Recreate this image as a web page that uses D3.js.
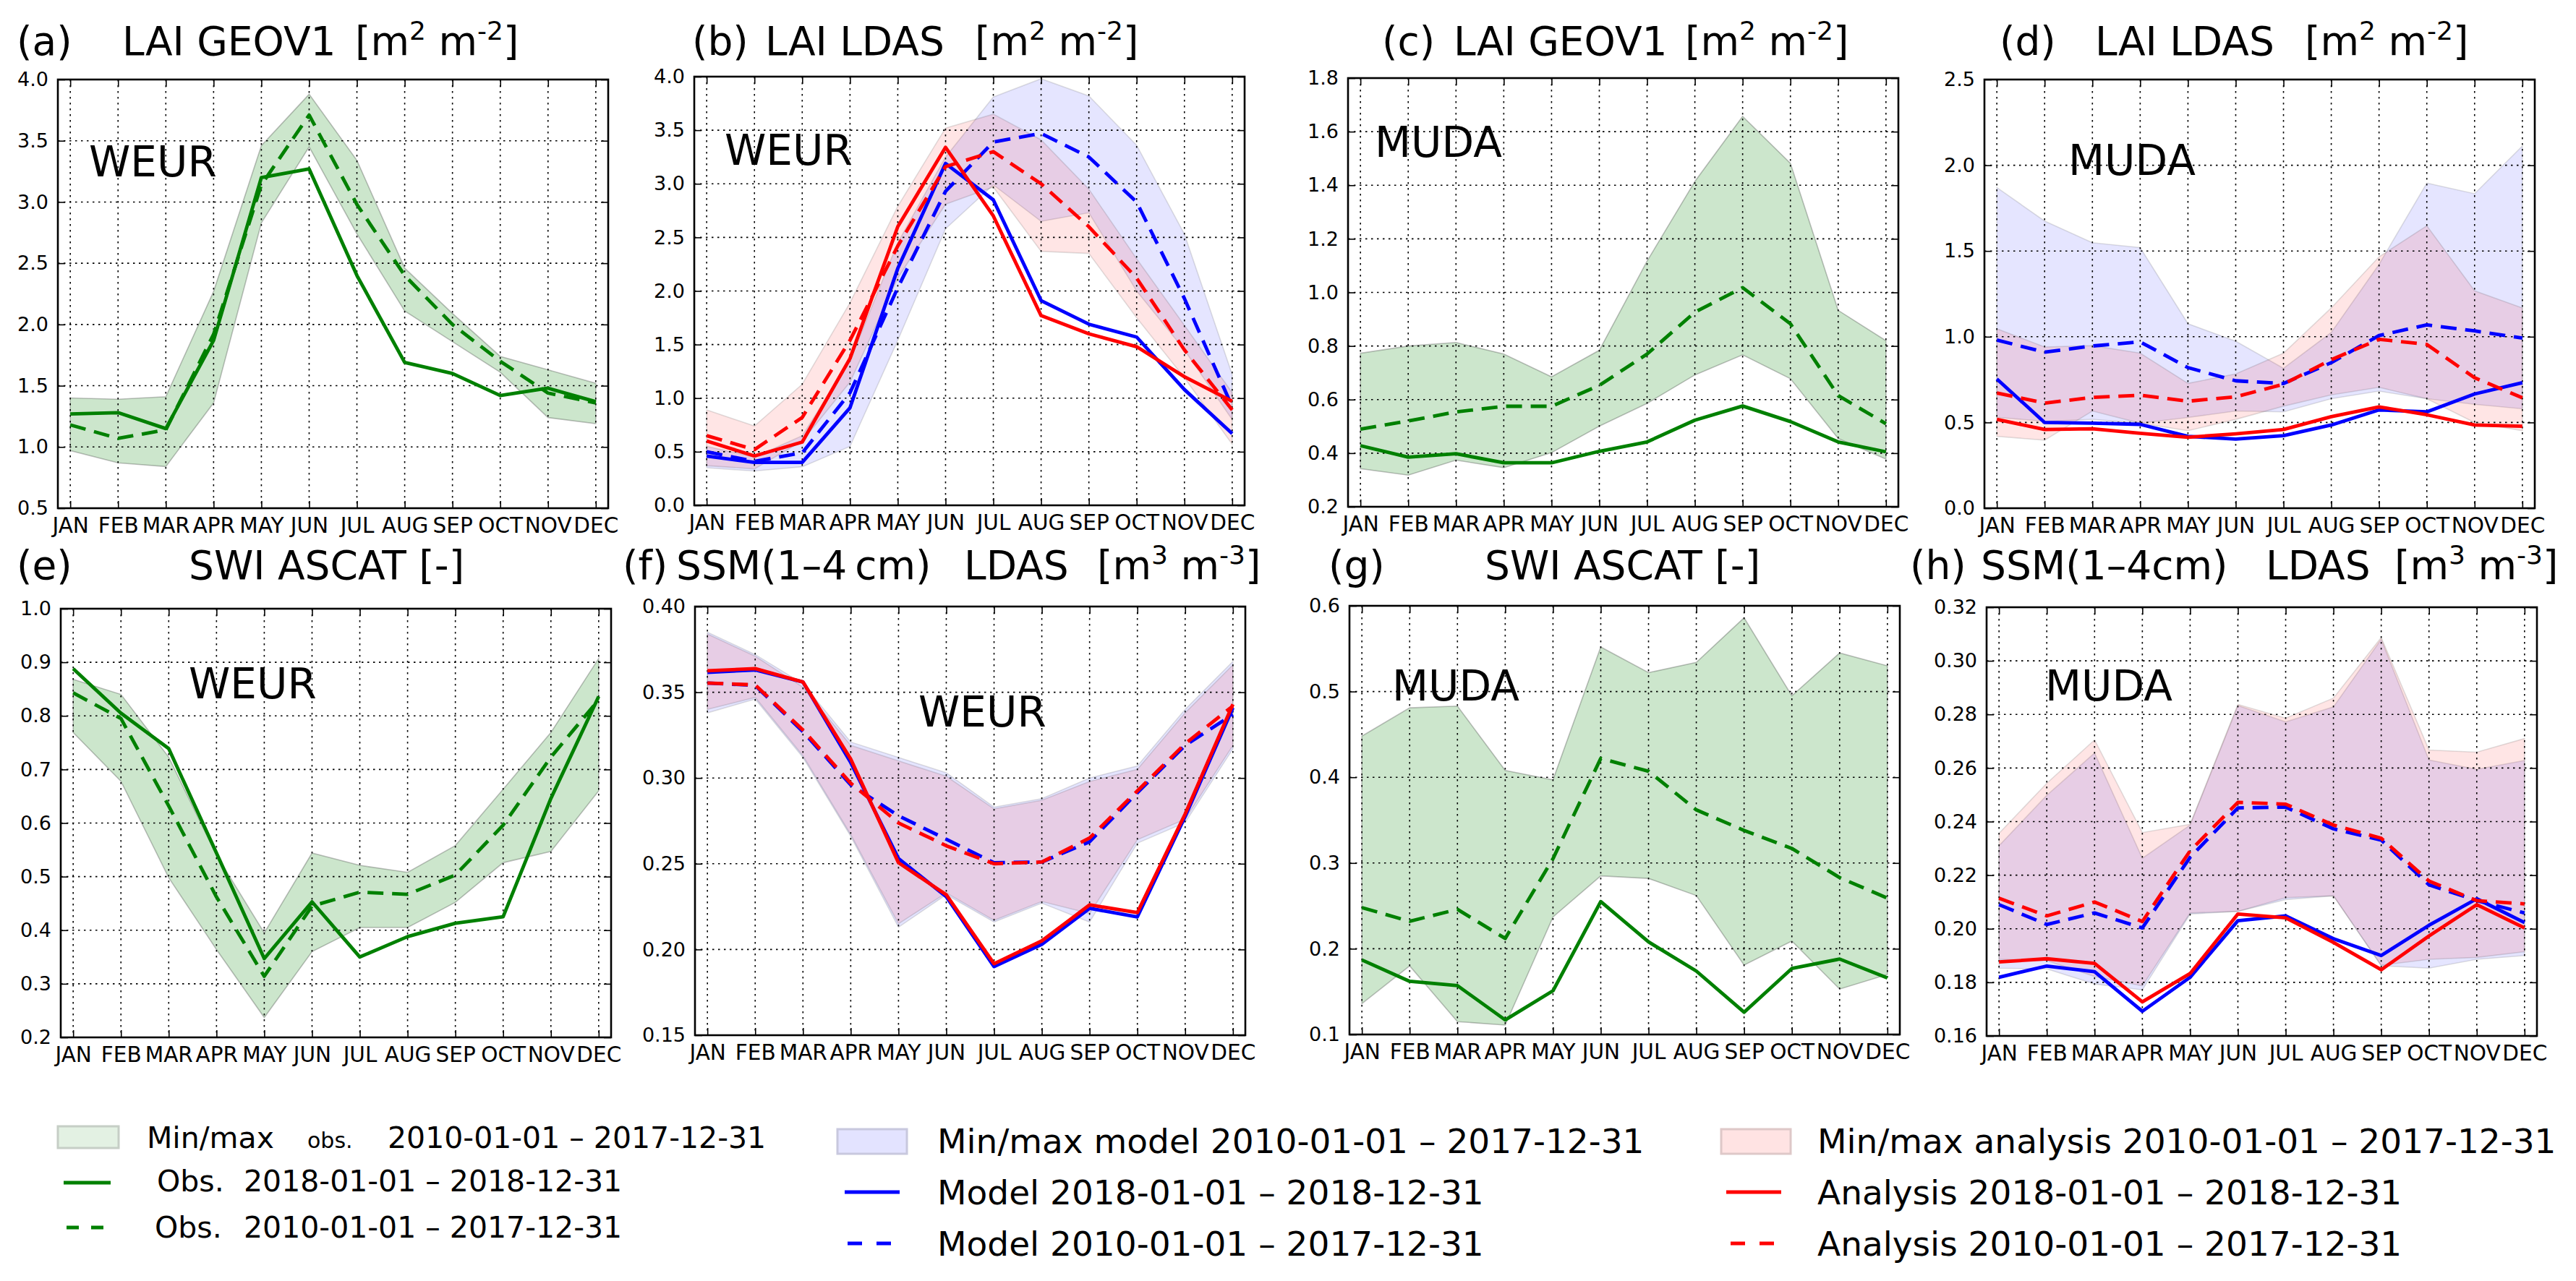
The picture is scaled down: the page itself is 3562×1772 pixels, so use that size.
<!DOCTYPE html>
<html>
<head>
<meta charset="utf-8">
<script src="https://cdn.jsdelivr.net/npm/d3@7"></script>
<style>
  body { margin: 0; background: #fff; }
  text { font-family: "DejaVu Sans", sans-serif; fill: #000; }
</style>
</head>
<body>
<svg id="fig" width="3562" height="1772"></svg>
<script>
var MONTHS = ["JAN","FEB","MAR","APR","MAY","JUN","JUL","AUG","SEP","OCT","NOV","DEC"];

// (a) WEUR - LAI GEOV1
var aObs2018 = [1.27,1.28,1.15,1.87,3.20,3.27,2.40,1.69,1.60,1.42,1.48,1.37];
var aObsMean = [1.18,1.07,1.14,1.92,3.14,3.71,2.98,2.40,2.00,1.70,1.44,1.36];
var aObsMin  = [0.97,0.87,0.84,1.36,2.83,3.45,2.74,2.11,1.86,1.61,1.24,1.19];
var aObsMax  = [1.40,1.39,1.41,2.27,3.46,3.88,3.34,2.46,2.09,1.74,1.63,1.52];
var aTicks   = [0.5,1.0,1.5,2.0,2.5,3.0,3.5,4.0];

// (b) WEUR - LAI LDAS
var bModel2018 = [0.46,0.40,0.40,0.91,2.21,3.19,2.85,1.91,1.69,1.57,1.08,0.67];
var bModelMean = [0.50,0.41,0.49,1.05,2.03,2.93,3.39,3.47,3.25,2.83,1.93,0.92];
var bModelMin  = [0.35,0.32,0.36,0.55,1.54,2.58,2.99,2.65,2.73,2.00,1.45,0.80];
var bModelMax  = [0.55,0.45,0.65,1.35,2.45,3.25,3.81,3.98,3.82,3.36,2.53,1.22];
var bAna2018   = [0.60,0.46,0.59,1.37,2.60,3.34,2.70,1.77,1.60,1.48,1.20,0.97];
var bAnaMean   = [0.65,0.52,0.82,1.54,2.42,3.16,3.30,3.00,2.60,2.12,1.45,0.89];
var bAnaMin    = [0.37,0.34,0.60,1.15,2.12,2.81,2.97,2.37,2.35,1.75,1.19,0.57];
var bAnaMax    = [0.89,0.74,1.13,1.89,2.79,3.52,3.65,3.41,2.95,2.30,1.68,1.05];
var bTicks     = [0.0,0.5,1.0,1.5,2.0,2.5,3.0,3.5,4.0];

// (c) MUDA - LAI GEOV1
var cObs2018 = [0.428,0.385,0.398,0.364,0.364,0.407,0.442,0.523,0.576,0.518,0.442,0.405];
var cObsMean = [0.490,0.520,0.554,0.575,0.575,0.653,0.770,0.926,1.018,0.883,0.615,0.510];
var cObsMin  = [0.342,0.318,0.374,0.346,0.402,0.501,0.586,0.692,0.767,0.678,0.455,0.378];
var cObsMax  = [0.773,0.800,0.813,0.770,0.685,0.784,1.117,1.414,1.657,1.482,0.933,0.820];
var cTicks   = [0.2,0.4,0.6,0.8,1.0,1.2,1.4,1.6,1.8];

// (d) MUDA - LAI LDAS
var dModel2018 = [0.754,0.500,0.496,0.489,0.419,0.403,0.423,0.485,0.573,0.562,0.666,0.732];
var dModelMean = [0.981,0.910,0.946,0.970,0.820,0.743,0.727,0.849,1.007,1.069,1.034,0.992];
var dModelMin  = [0.530,0.507,0.518,0.496,0.529,0.567,0.562,0.639,0.683,0.639,0.606,0.580];
var dModelMax  = [1.870,1.675,1.548,1.520,1.076,0.974,0.816,1.025,1.422,1.896,1.834,2.112];
var dAna2018   = [0.518,0.459,0.463,0.437,0.414,0.434,0.459,0.534,0.591,0.545,0.485,0.478];
var dAnaMean   = [0.672,0.613,0.646,0.659,0.624,0.650,0.723,0.866,0.985,0.955,0.761,0.644];
var dAnaMin    = [0.419,0.397,0.567,0.496,0.452,0.518,0.595,0.661,0.705,0.639,0.500,0.452];
var dAnaMax    = [1.047,0.940,0.948,0.904,0.728,0.783,0.904,1.168,1.466,1.647,1.268,1.168];
var dTicks     = [0.0,0.5,1.0,1.5,2.0,2.5];

// (e) WEUR - SWI ASCAT
var eObs2018 = [0.888,0.805,0.739,0.544,0.347,0.453,0.350,0.388,0.413,0.425,0.646,0.836];
var eObsMean = [0.843,0.795,0.632,0.462,0.314,0.445,0.471,0.467,0.503,0.596,0.723,0.830];
var eObsMin  = [0.769,0.678,0.498,0.364,0.237,0.360,0.405,0.405,0.452,0.526,0.547,0.660];
var eObsMax  = [0.868,0.840,0.723,0.540,0.395,0.544,0.521,0.508,0.558,0.663,0.769,0.907];
var eTicks   = [0.2,0.3,0.4,0.5,0.6,0.7,0.8,0.9,1.0];

// (f) WEUR - SSM LDAS
var fModel2018 = [0.3616,0.3630,0.3560,0.3090,0.2530,0.2308,0.1900,0.2030,0.2240,0.2190,0.2775,0.3410];
var fModelMean = [0.3554,0.3540,0.3270,0.2960,0.2780,0.2643,0.2506,0.2510,0.2628,0.2914,0.3190,0.3370];
var fModelMin  = [0.3380,0.3460,0.3120,0.2660,0.2130,0.2320,0.2160,0.2270,0.2160,0.2620,0.2740,0.3170];
var fModelMax  = [0.3850,0.3720,0.3550,0.3210,0.3120,0.3030,0.2830,0.2880,0.3000,0.3070,0.3400,0.3680];
var fAna2018   = [0.3625,0.3638,0.3560,0.3110,0.2506,0.2319,0.1917,0.2050,0.2260,0.2215,0.2790,0.3430];
var fAnaMean   = [0.3554,0.3543,0.3280,0.2970,0.2738,0.2605,0.2500,0.2510,0.2650,0.2925,0.3200,0.3420];
var fAnaMin    = [0.3400,0.3470,0.3130,0.2670,0.2150,0.2330,0.2170,0.2280,0.2210,0.2640,0.2760,0.3190];
var fAnaMax    = [0.3840,0.3710,0.3530,0.3190,0.3100,0.3010,0.2820,0.2870,0.2980,0.3050,0.3380,0.3660];
var fTicks     = [0.15,0.20,0.25,0.30,0.35,0.40];

// (g) MUDA - SWI ASCAT
var gObs2018 = [0.187,0.162,0.157,0.117,0.151,0.255,0.208,0.174,0.126,0.177,0.188,0.166];
var gObsMean = [0.248,0.232,0.246,0.212,0.305,0.422,0.407,0.362,0.338,0.317,0.283,0.259];
var gObsMin  = [0.136,0.180,0.115,0.111,0.237,0.285,0.282,0.262,0.181,0.209,0.153,0.170];
var gObsMax  = [0.448,0.481,0.483,0.408,0.397,0.552,0.522,0.534,0.586,0.495,0.545,0.530];
var gTicks   = [0.1,0.2,0.3,0.4,0.5,0.6];

// (h) MUDA - SSM LDAS
var hModel2018 = [0.1819,0.1861,0.1840,0.1692,0.1819,0.2030,0.2048,0.1963,0.1900,0.2013,0.2112,0.2023];
var hModelMean = [0.2090,0.2016,0.2059,0.2003,0.2267,0.2451,0.2454,0.2373,0.2331,0.2164,0.2105,0.2059];
var hModelMin  = [0.1853,0.1850,0.1794,0.1772,0.2055,0.2065,0.2109,0.2123,0.1862,0.1853,0.1886,0.1900];
var hModelMax  = [0.2310,0.2498,0.2656,0.2263,0.2387,0.2833,0.2772,0.2828,0.3080,0.2630,0.2595,0.2628];
var hAna2018   = [0.1876,0.1888,0.1871,0.1727,0.1833,0.2055,0.2041,0.1949,0.1847,0.1973,0.2090,0.2003];
var hAnaMean   = [0.2114,0.2048,0.2100,0.2027,0.2291,0.2472,0.2465,0.2387,0.2338,0.2178,0.2105,0.2093];
var hAnaMin    = [0.1886,0.1881,0.1822,0.1787,0.2059,0.2065,0.2116,0.2123,0.1864,0.1886,0.1893,0.1914];
var hAnaMax    = [0.2356,0.2543,0.2705,0.2359,0.2390,0.2837,0.2786,0.2861,0.3087,0.2667,0.2659,0.2710];
var hTicks     = [0.16,0.18,0.20,0.22,0.24,0.26,0.28,0.30,0.32];

var GREEN = "#008000", BLUE = "#0000ff", RED = "#ff0000";
var W = 761, H = 593;
var svg = d3.select("#fig");

function obsSet(mn, mx, now, mean) {
    return {
        bands: [{min: mn, max: mx, color: GREEN, alpha: 0.2}],
        lines: [{v: now, color: GREEN, dash: false}, {v: mean, color: GREEN, dash: true}]
    };
}
function ldasSet(mMin, mMax, aMin, aMax, m18, mMean, a18, aMean) {
    return {
        bands: [{min: mMin, max: mMax, color: BLUE, alpha: 0.1},
                {min: aMin, max: aMax, color: RED, alpha: 0.1}],
        lines: [{v: m18, color: BLUE, dash: false}, {v: mMean, color: BLUE, dash: true},
                {v: a18, color: RED, dash: false}, {v: aMean, color: RED, dash: true}]
    };
}

var panels = [
    {left: 80,   top: 110, yDomain: [0.5, 4.0],   ticks: aTicks, fmt: ".1f", region: "WEUR", rx: 43,  ry: 134, s: obsSet(aObsMin, aObsMax, aObs2018, aObsMean)},
    {left: 960,  top: 106, yDomain: [0.0, 4.0],   ticks: bTicks, fmt: ".1f", region: "WEUR", rx: 42,  ry: 122, s: ldasSet(bModelMin, bModelMax, bAnaMin, bAnaMax, bModel2018, bModelMean, bAna2018, bAnaMean)},
    {left: 1864, top: 108, yDomain: [0.2, 1.8],   ticks: cTicks, fmt: ".1f", region: "MUDA", rx: 37,  ry: 109, s: obsSet(cObsMin, cObsMax, cObs2018, cObsMean)},
    {left: 2744, top: 110, yDomain: [0.0, 2.5],   ticks: dTicks, fmt: ".1f", region: "MUDA", rx: 116, ry: 132, s: ldasSet(dModelMin, dModelMax, dAnaMin, dAnaMax, dModel2018, dModelMean, dAna2018, dAnaMean)},
    {left: 84,   top: 842, yDomain: [0.2, 1.0],   ticks: eTicks, fmt: ".1f", region: "WEUR", rx: 177, ry: 124, s: obsSet(eObsMin, eObsMax, eObs2018, eObsMean)},
    {left: 961,  top: 839, yDomain: [0.15, 0.40], ticks: fTicks, fmt: ".2f", region: "WEUR", rx: 309, ry: 166, s: ldasSet(fModelMin, fModelMax, fAnaMin, fAnaMax, fModel2018, fModelMean, fAna2018, fAnaMean)},
    {left: 1866, top: 838, yDomain: [0.1, 0.6],   ticks: gTicks, fmt: ".1f", region: "MUDA", rx: 59,  ry: 131, s: obsSet(gObsMin, gObsMax, gObs2018, gObsMean)},
    {left: 2747, top: 840, yDomain: [0.16, 0.32], ticks: hTicks, fmt: ".2f", region: "MUDA", rx: 81,  ry: 129, s: ldasSet(hModelMin, hModelMax, hAnaMin, hAnaMax, hModel2018, hModelMean, hAna2018, hAnaMean)}
];

var UNIT_LAI = [{t: "[m"}, {t: "2", sup: true}, {t: " m"}, {t: "-2", sup: true}, {t: "]"}];
var UNIT_SSM = [{t: "[m"}, {t: "3", sup: true}, {t: " m"}, {t: "-3", sup: true}, {t: "]"}];

var titles = [
    {y: 76,  parts: [{x: 23, t: "(a)"}, {x: 169, t: "LAI GEOV1"}, {x: 491, u: UNIT_LAI}]},
    {y: 76,  parts: [{x: 957, t: "(b)"}, {x: 1058, t: "LAI LDAS"}, {x: 1348, u: UNIT_LAI}]},
    {y: 76,  parts: [{x: 1911, t: "(c)"}, {x: 2010, t: "LAI GEOV1"}, {x: 2330, u: UNIT_LAI}]},
    {y: 76,  parts: [{x: 2765, t: "(d)"}, {x: 2897, t: "LAI LDAS"}, {x: 3187, u: UNIT_LAI}]},
    {y: 801, parts: [{x: 23, t: "(e)"}, {x: 261, t: "SWI ASCAT [-]"}]},
    {y: 801, parts: [{x: 861, t: "(f)"}, {x: 935, t: "SSM(1\u20134\u2009cm)"}, {x: 1333, t: "LDAS"}, {x: 1517, u: UNIT_SSM}]},
    {y: 801, parts: [{x: 1837, t: "(g)"}, {x: 2053, t: "SWI ASCAT [-]"}]},
    {y: 801, parts: [{x: 2641, t: "(h)"}, {x: 2739, t: "SSM(1\u20134cm)"}, {x: 3133, t: "LDAS"}, {x: 3311, u: UNIT_SSM}]}
];

function drawPanel(p) {
    var g = svg.append("g").attr("transform", "translate(" + p.left + "," + p.top + ")");
    var x = d3.scaleLinear().domain([-0.26, 11.26]).range([0, W]);
    var y = d3.scaleLinear().domain(p.yDomain).range([H, 0]);

    var area = d3.area()
        .x(function(d, i) { return x(i); })
        .y0(function(d) { return y(d[0]); })
        .y1(function(d) { return y(d[1]); });
    var line = d3.line()
        .x(function(d, i) { return x(i); })
        .y(function(d) { return y(d); });

    p.s.bands.forEach(function(b) {
        g.append("path")
            .datum(d3.zip(b.min, b.max))
            .attr("d", area)
            .attr("fill", b.color).attr("fill-opacity", b.alpha)
            .attr("stroke", "#000").attr("stroke-opacity", b.alpha * 1.2)
            .attr("stroke-width", 1.6);
    });

    // dotted grid
    var grid = g.append("g").attr("stroke", "#000").attr("stroke-width", 1.6)
        .attr("stroke-dasharray", "2.5,5.5");
    grid.selectAll(".gy").data(p.ticks).enter().append("line")
        .attr("x1", 0).attr("x2", W)
        .attr("y1", function(d) { return y(d); }).attr("y2", function(d) { return y(d); });
    grid.selectAll(".gx").data(d3.range(12)).enter().append("line")
        .attr("y1", 0).attr("y2", H)
        .attr("x1", function(d) { return x(d); }).attr("x2", function(d) { return x(d); });

    p.s.lines.forEach(function(l) {
        g.append("path")
            .datum(l.v)
            .attr("d", line)
            .attr("fill", "none")
            .attr("stroke", l.color)
            .attr("stroke-width", 4.8)
            .attr("stroke-linejoin", "round")
            .attr("stroke-dasharray", l.dash ? "22,12" : null);
    });

    var fmt = d3.format(p.fmt);
    var axL = g.append("g")
        .call(d3.axisLeft(y).tickValues(p.ticks).tickFormat(fmt).tickSize(-10).tickPadding(13));
    var axR = g.append("g").attr("transform", "translate(" + W + ",0)")
        .call(d3.axisRight(y).tickValues(p.ticks).tickFormat("").tickSize(-10));
    var axB = g.append("g").attr("transform", "translate(0," + H + ")")
        .call(d3.axisBottom(x).tickValues(d3.range(12)).tickFormat(function(i) { return MONTHS[i]; })
        .tickSize(-10).tickPadding(13));
    var axT = g.append("g")
        .call(d3.axisTop(x).tickValues(d3.range(12)).tickFormat("").tickSize(-10));
    [axL, axR, axB, axT].forEach(function(a) {
        a.select(".domain").remove();
        a.selectAll(".tick line").attr("stroke", "#000").attr("stroke-width", 1.6);
        a.attr("font-family", "DejaVu Sans");
        a.selectAll("text").attr("fill", "#000");
    });
    axL.attr("font-size", 27);
    axB.attr("font-size", 29.5);

    g.append("rect").attr("width", W).attr("height", H)
        .attr("fill", "none").attr("stroke", "#000").attr("stroke-width", 2.6);

    g.append("text").attr("x", p.rx).attr("y", p.ry).attr("font-size", 58).text(p.region);
}

panels.forEach(drawPanel);

// titles
titles.forEach(function(tt) {
    tt.parts.forEach(function(pt) {
        var t = svg.append("text").attr("x", pt.x).attr("y", tt.y).attr("font-size", 55);
        if (pt.t) { t.text(pt.t); return; }
        var raised = false;
        pt.u.forEach(function(seg) {
            var s = t.append("tspan").text(seg.t);
            if (seg.sup) { s.attr("font-size", 36).attr("dy", -21); raised = true; }
            else if (raised) { s.attr("dy", 21); raised = false; }
        });
    });
});

// legend
var legendCols = [
    {patchX: 80, patchW: 84, patchY: 1558, patchH: 30, fill: GREEN, fillOp: 0.11, edge: "#c6cec6",
     lineX1: 88, lineX2: 153, dashX1: 92, dashX2: 144, dash: "17,17", color: GREEN,
     rows: [1573, 1636, 1698], base: [1588, 1648, 1712], size: 41,
     texts: [[{x: 203, t: "Min/max"}, {x: 425, t: "obs.", size: 30}, {x: 536, t: "2010-01-01 \u2013 2017-12-31"}],
             [{x: 217, t: "Obs."}, {x: 337, t: "2018-01-01 \u2013 2018-12-31"}],
             [{x: 214, t: "Obs."}, {x: 337, t: "2010-01-01 \u2013 2017-12-31"}]]},
    {patchX: 1158, patchW: 96, patchY: 1562, patchH: 34, fill: BLUE, fillOp: 0.11, edge: "#c8c8de",
     lineX1: 1168, lineX2: 1244, dashX1: 1172, dashX2: 1232, dash: "20,20", color: BLUE,
     rows: [1579, 1649, 1720], base: [1595, 1666, 1737], size: 47,
     texts: [[{x: 1296, t: "Min/max model 2010-01-01 \u2013 2017-12-31"}],
             [{x: 1296, t: "Model 2018-01-01 \u2013 2018-12-31"}],
             [{x: 1296, t: "Model 2010-01-01 \u2013 2017-12-31"}]]},
    {patchX: 2380, patchW: 96, patchY: 1562, patchH: 34, fill: RED, fillOp: 0.11, edge: "#dec8c8",
     lineX1: 2387, lineX2: 2463, dashX1: 2393, dashX2: 2453, dash: "20,20", color: RED,
     rows: [1579, 1649, 1720], base: [1595, 1666, 1737], size: 47,
     texts: [[{x: 2513, t: "Min/max analysis 2010-01-01 \u2013 2017-12-31"}],
             [{x: 2513, t: "Analysis 2018-01-01 \u2013 2018-12-31"}],
             [{x: 2513, t: "Analysis 2010-01-01 \u2013 2017-12-31"}]]}
];

legendCols.forEach(function(c) {
    svg.append("rect").attr("x", c.patchX).attr("y", c.patchY)
        .attr("width", c.patchW).attr("height", c.patchH)
        .attr("fill", c.fill).attr("fill-opacity", c.fillOp)
        .attr("stroke", c.edge).attr("stroke-width", 3);
    svg.append("line").attr("x1", c.lineX1).attr("x2", c.lineX2)
        .attr("y1", c.rows[1]).attr("y2", c.rows[1])
        .attr("stroke", c.color).attr("stroke-width", 5);
    svg.append("line").attr("x1", c.dashX1).attr("x2", c.dashX2)
        .attr("y1", c.rows[2]).attr("y2", c.rows[2])
        .attr("stroke", c.color).attr("stroke-width", 5)
        .attr("stroke-dasharray", c.dash);
    c.texts.forEach(function(row, r) {
        row.forEach(function(pt) {
            svg.append("text").attr("x", pt.x).attr("y", c.base[r])
                .attr("font-size", pt.size || c.size).text(pt.t);
        });
    });
});
</script>
</body>
</html>
